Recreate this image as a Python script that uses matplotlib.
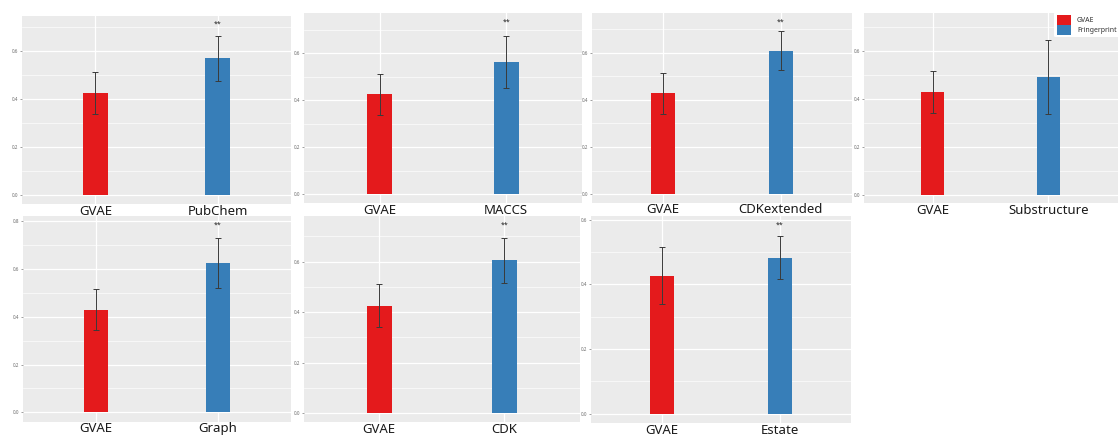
import numpy as np
import matplotlib
matplotlib.use('Agg')
import matplotlib.pyplot as plt
from matplotlib.patches import Patch

plt.rcParams['font.family'] = ['Noto Sans', 'DejaVu Sans']

# one panel per fingerprint, each compared against GVAE
fingerprints = ['PubChem', 'MACCS', 'CDKextended', 'Substructure', 'Graph', 'CDK', 'Estate']
gvae_mean = [0.426, 0.425, 0.428, 0.428, 0.430, 0.425, 0.427]
gvae_sd = [0.087, 0.087, 0.087, 0.088, 0.087, 0.086, 0.087]
fp_mean = [0.571, 0.563, 0.608, 0.490, 0.625, 0.605, 0.482]
fp_sd = [0.093, 0.112, 0.083, 0.153, 0.104, 0.090, 0.066]
signif = ['**', '**', '**', '', '**', '**', '**']
signif_y = [0.714, 0.733, 0.730, 0.719, 0.782, 0.744, 0.582]

red = '#E41A1C'
blue = '#377EB8'

W, H = 1120, 437
fig = plt.figure(figsize=(W / 100, H / 100), dpi=100)

# panel boxes in pixels: left, right, top, bottom
boxes = [
    (22, 291, 15.5, 204),
    (304, 582, 13.3, 203),
    (592, 851.5, 13.3, 202.7),
    (863.5, 1117.5, 13.3, 203.3),
    (22.5, 291, 216, 421.7),
    (304, 579.5, 216, 422.3),
    (590.7, 851, 216, 423.3),
]

for i, name in enumerate(fingerprints):
    l, r, t, b = boxes[i]
    ax = fig.add_axes([l / W, 1 - b / H, (r - l) / W, (b - t) / H])
    ax.set_facecolor('#EBEBEB')
    for s in ax.spines.values():
        s.set_visible(False)

    top = signif_y[i]
    ax.set_ylim(-0.05 * top, 1.05 * top)
    ax.set_xlim(0.4, 2.6)

    major = np.arange(0, 1.05 * top, 0.2)
    minor = np.arange(0.1, 1.05 * top, 0.2)
    ax.set_yticks(major)
    ax.set_yticks(minor, minor=True)
    ax.set_yticklabels(['%.1f' % v for v in major])
    ax.set_xticks([1, 2])
    ax.set_xticklabels(['GVAE', name])
    ax.grid(True, which='major', color='white', lw=0.9)
    ax.grid(True, which='minor', axis='y', color='white', lw=0.45)
    ax.set_axisbelow(True)

    ax.tick_params(axis='y', which='major', length=1.5, width=0.4, color='#555555',
                   labelsize=3.2, labelcolor='#666666', pad=1)
    ax.tick_params(axis='y', which='minor', length=0)
    ax.tick_params(axis='x', length=0, labelsize=9.5, labelcolor='#1A1A1A', pad=0.5)

    ax.bar([1, 2], [gvae_mean[i], fp_mean[i]], width=0.2, color=[red, blue], zorder=2)
    ax.errorbar([1, 2], [gvae_mean[i], fp_mean[i]], yerr=[gvae_sd[i], fp_sd[i]],
                fmt='none', ecolor='#3A3A3A', elinewidth=0.7, capsize=2.5,
                capthick=0.7, zorder=3)
    if signif[i]:
        ax.text(2, signif_y[i], signif[i], ha='center', va='center',
                fontsize=5, fontweight='bold', color='#222222')

handles = [Patch(facecolor=red, label='GVAE'), Patch(facecolor=blue, label='Fringerprint')]
fig.legend(handles=handles, loc='upper left', bbox_to_anchor=(1051 / W, 1 - 9 / H),
           fontsize=5.0, frameon=True, facecolor='white', edgecolor='none',
           framealpha=1, handlelength=2.0, handleheight=1.75, labelspacing=0.1,
           handletextpad=0.9, borderpad=0.35, labelcolor='#333333')

fig.savefig('out.png', dpi=100)
